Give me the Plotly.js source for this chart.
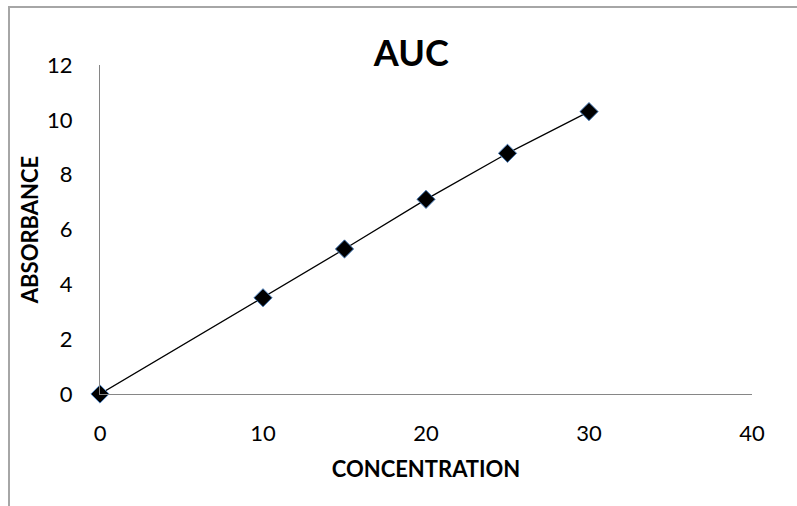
<!DOCTYPE html>
<html>
<head>
<meta charset="utf-8">
<script src="https://cdn.plot.ly/plotly-3.0.1.min.js"></script>
<style>
html,body{margin:0;padding:0;background:#fff;overflow:hidden;}
#frame{position:absolute;left:8px;top:6px;width:900px;height:600px;border-left:2px solid #a6a6a6;border-top:2px solid #a6a6a6;}
#chart{position:absolute;left:0;top:0;width:797px;height:506px;}
</style>
</head>
<body>
<div id="frame"></div>
<div id="chart"></div>
<script>
const concentration = [0, 10, 15, 20, 25, 30];
const absorbance = [0, 3.51, 5.29, 7.1, 8.78, 10.3];
const xTicks = [0, 10, 20, 30, 40];
const yTicks = [0, 2, 4, 6, 8, 10, 12];

const fontFam = 'Lato, "Open Sans", "Liberation Sans", sans-serif';

const trace = {
  x: concentration,
  y: absorbance,
  type: 'scatter',
  mode: 'lines+markers',
  cliponaxis: false,
  line: {color: '#000000', width: 1.3},
  marker: {symbol: 'diamond', size: 14, color: '#000000', line: {color: '#4a7ebb', width: 1}},
  showlegend: false,
  hoverinfo: 'x+y'
};

const layout = {
  width: 797, height: 506,
  margin: {l: 100, r: 45, t: 65, b: 112},
  paper_bgcolor: 'rgba(0,0,0,0)',
  plot_bgcolor: 'rgba(0,0,0,0)',
  font: {family: fontFam, color: '#000000', size: 22},
  title: {text: '<b>AUC</b>', font: {family: fontFam, size: 36, color: '#000'}, x: 0.516, xanchor: 'center', y: 0.895, yref: 'container', yanchor: 'middle'},
  xaxis: {
    range: [0, 40], tickvals: xTicks, ticktext: xTicks.map(String),
    showgrid: false, zeroline: false, showline: true, linecolor: '#868686', linewidth: 1,
    ticks: '', ticklabelstandoff: 20,
    tickfont: {family: fontFam, size: 22, color: '#000'},
    title: {text: '<b>CONCENTRATION</b>', font: {family: fontFam, size: 22, color: '#000'}, standoff: 16}
  },
  yaxis: {
    range: [0, 12], tickvals: yTicks, ticktext: yTicks.map(String),
    showgrid: false, zeroline: false, showline: true, linecolor: '#868686', linewidth: 1,
    ticks: '', ticklabelstandoff: 22,
    tickfont: {family: fontFam, size: 22, color: '#000'},
    title: {text: '<b>ABSORBANCE</b>', font: {family: fontFam, size: 22, color: '#000'}, standoff: 2}
  }
};

Plotly.newPlot('chart', [trace], layout, {displayModeBar: false, staticPlot: true});
</script>
</body>
</html>
